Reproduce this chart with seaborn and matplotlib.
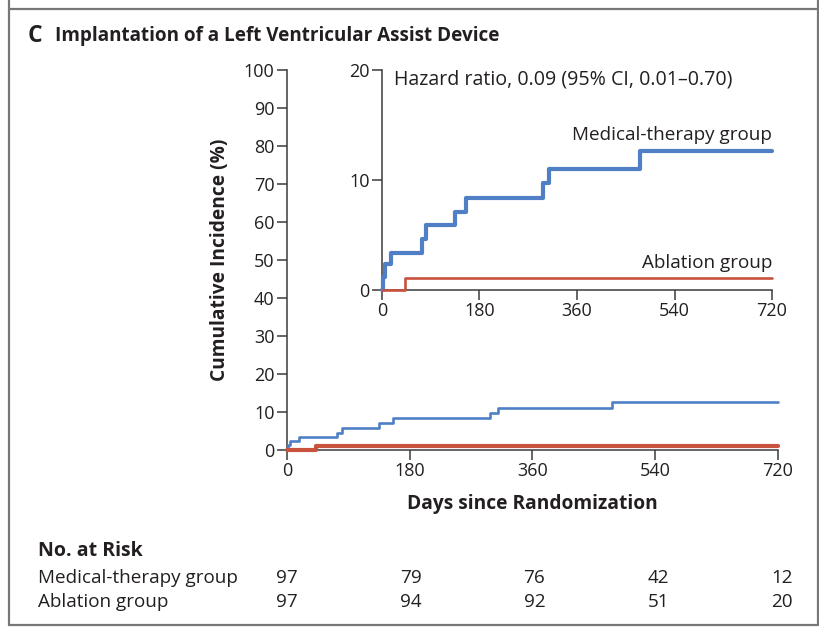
import matplotlib
matplotlib.use("Agg")
import matplotlib.pyplot as plt
import matplotlib.lines as mlines
import seaborn as sns
import pandas as pd

# Cumulative incidence of LVAD implantation (step functions)
med_days = [0, 2, 5, 17, 73, 81, 135, 155, 297, 309, 476, 720]
med_inc = [0, 1.2, 2.4, 3.4, 4.6, 5.9, 7.1, 8.4, 9.7, 11.0, 12.6, 12.6]
abl_days = [0, 42, 720]
abl_inc = [0, 1.1, 1.1]

groups = ["Medical-therapy group", "Ablation group"]
risk_days = [0, 180, 360, 540, 720]
risk_med = [97, 79, 76, 42, 12]
risk_abl = [97, 94, 92, 51, 20]

x_ticks = [0, 180, 360, 540, 720]
main_y_ticks = list(range(0, 101, 10))
inset_y_ticks = [0, 10, 20]

BLUE = "#4f80c6"
RED = "#c8523b"
INK = "#231f20"
AXC = "#3a3a3a"
FS = 13      # tick label size
FS_TXT = 13.6  # annotation / table text size

sns.set_style("ticks")
plt.rcParams["font.family"] = ["Open Sans", "DejaVu Sans"]

df = pd.concat([
    pd.DataFrame({"day": med_days, "inc": med_inc, "group": groups[0]}),
    pd.DataFrame({"day": abl_days, "inc": abl_inc, "group": groups[1]}),
])
med = df[df.group == groups[0]]
abl = df[df.group == groups[1]]

fig = plt.figure(figsize=(8.2, 6.34), dpi=100)


def style_axes(ax, yticks, ymax):
    ax.set_xlim(0, 720)
    ax.set_ylim(0, ymax)
    ax.set_xticks(x_ticks)
    ax.set_yticks(yticks)
    for s in ["top", "right"]:
        ax.spines[s].set_visible(False)
    for s in ["left", "bottom"]:
        ax.spines[s].set_color(AXC)
        ax.spines[s].set_linewidth(1.1)
    ax.tick_params(direction="out", length=7, width=1.1, color=AXC,
                   labelsize=FS, labelcolor=INK, pad=2)
    ax.set_xlabel("")
    ax.set_ylabel("")
    ax.patch.set_alpha(0)


# Main panel, 0-100%
ax = fig.add_axes([287 / 820, 1 - 450 / 634, 491 / 820, 380 / 634])
sns.lineplot(data=med, x="day", y="inc", ax=ax, color=BLUE, lw=1.9,
             drawstyle="steps-post", clip_on=False, zorder=3, legend=False)
sns.lineplot(data=abl, x="day", y="inc", ax=ax, color=RED, lw=3.0,
             drawstyle="steps-post", clip_on=False, zorder=4, legend=False)
style_axes(ax, main_y_ticks, 100)
ax.set_xlabel("Days since Randomization", fontsize=13.8, fontweight="bold",
              color=INK, labelpad=10)
ax.set_ylabel("Cumulative Incidence (%)", fontsize=13.8, fontweight="bold",
              color=INK, labelpad=10)

# Inset, 0-20%
axi = fig.add_axes([382 / 820, 1 - 290 / 634, 390 / 820, 220 / 634])
sns.lineplot(data=med, x="day", y="inc", ax=axi, color=BLUE, lw=3.0,
             drawstyle="steps-post", clip_on=False, zorder=3, legend=False)
sns.lineplot(data=abl, x="day", y="inc", ax=axi, color=RED, lw=1.9,
             drawstyle="steps-post", clip_on=False, zorder=4, legend=False)
style_axes(axi, inset_y_ticks, 20)
axi.text(0.03, 0.955, "Hazard ratio, 0.09 (95% CI, 0.01\u20130.70)",
         transform=axi.transAxes, ha="left", va="center", fontsize=14.1,
         color=INK)
axi.text(720, 14.1, groups[0], ha="right", va="center", fontsize=FS_TXT,
         color=INK)
axi.text(720, 2.5, groups[1], ha="right", va="center", fontsize=FS_TXT,
         color=INK)

# Panel title
fig.text(28 / 820, 1 - 36 / 634, "C", fontsize=16.5, fontweight="bold",
         color=INK, ha="left", va="center")
fig.text(55 / 820, 1 - 36 / 634, "Implantation of a Left Ventricular Assist Device",
         fontsize=13.6, fontweight="bold", color=INK, ha="left", va="center")

# Number at risk table
fig.text(38 / 820, 1 - 551 / 634, "No. at Risk", fontsize=14,
         fontweight="bold", color=INK, ha="left", va="center")
for row_y, name, counts in [(578, groups[0], risk_med), (602, groups[1], risk_abl)]:
    fy = 1 - row_y / 634
    fig.text(38 / 820, fy, name, fontsize=FS_TXT, color=INK, ha="left",
             va="center")
    for d, n in zip(risk_days, counts):
        xf = (ax.transData.transform((d, 0))[0] + d / 180) / fig.bbox.width
        fig.text(xf, fy, str(n), fontsize=FS_TXT, color=INK, ha="center",
                 va="center")

# Panel border
BORDER = "#777777"
for xs, ys in [([9, 818], [625, 625]), ([9, 818], [9, 9]),
               ([9, 9], [0, 625]), ([818, 818], [0, 625])]:
    fig.add_artist(mlines.Line2D([x / 820 for x in xs], [1 - y / 634 for y in ys],
                                 color=BORDER, lw=1.6))

fig.savefig("out.png", dpi=100)
